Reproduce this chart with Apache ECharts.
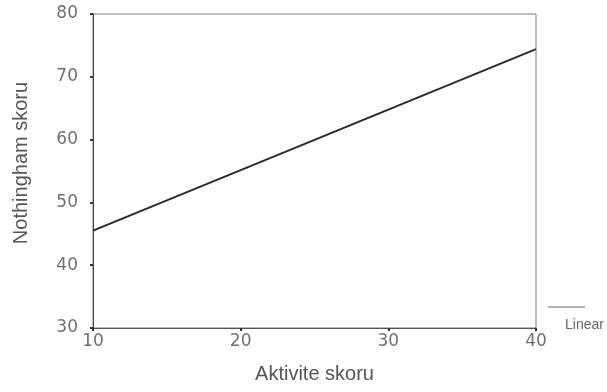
<!DOCTYPE html>
<html><head><meta charset="utf-8">
<script src="https://cdn.jsdelivr.net/npm/echarts@6/dist/echarts.min.js"></script>
<style>html,body{margin:0;padding:0;background:#fff}#c{width:607px;height:392px}</style>
</head><body><div id="c"></div>
<script>
const xTicks = [10, 20, 30, 40];
const yTicks = [30, 40, 50, 60, 70, 80];
const lineX = [10, 40];
const lineY = [45.5, 74.4];
const seriesName = 'Linear';
const xName = 'Aktivite skoru';
const yName = 'Nothingham skoru';

const chart = echarts.init(document.getElementById('c'), null, {renderer: 'canvas'});
const axisText = {color: '#707070', fontFamily: 'DejaVu Sans', fontSize: 17};
chart.setOption({
  animation: false,
  backgroundColor: '#fff',
  grid: {left: 93, top: 14, right: 71, bottom: 64, show: true, borderColor: '#777', borderWidth: 1},
  xAxis: {
    type: 'value', min: xTicks[0], max: xTicks[xTicks.length-1], interval: 10,
    name: xName, nameLocation: 'middle', nameGap: 36,
    nameTextStyle: {color: '#555', fontFamily: 'Liberation Sans, Arial', fontSize: 20},
    axisLine: {show: true, lineStyle: {color: '#555', width: 1}},
    axisTick: {show: true, length: 3, lineStyle: {color: '#333', width: 2}},
    axisLabel: Object.assign({margin: 5}, axisText),
    splitLine: {show: false}
  },
  yAxis: {
    type: 'value', min: yTicks[0], max: yTicks[yTicks.length-1], interval: 10,
    name: yName, nameLocation: 'middle', nameGap: 62,
    nameTextStyle: {color: '#555', fontFamily: 'Liberation Sans, Arial', fontSize: 20, padding: [0, 0, 0, 16]},
    axisLine: {show: true, lineStyle: {color: '#444', width: 1}},
    axisTick: {show: true, length: 3, lineStyle: {color: '#333', width: 2}},
    axisLabel: Object.assign({margin: 15}, axisText),
    splitLine: {show: false}
  },
  series: [{
    name: seriesName, type: 'line', showSymbol: false,
    data: lineX.map((x, i) => [x, lineY[i]]),
    lineStyle: {color: '#2a2a2a', width: 2}
  }],
  graphic: [
    {type: 'line', shape: {x1: 548, y1: 307, x2: 585, y2: 307}, style: {stroke: '#666', lineWidth: 1}},
    {type: 'text', left: 565, top: 318, style: {text: seriesName, fill: '#666', font: '14px Liberation Sans, Arial'}}
  ]
});
</script></body></html>
